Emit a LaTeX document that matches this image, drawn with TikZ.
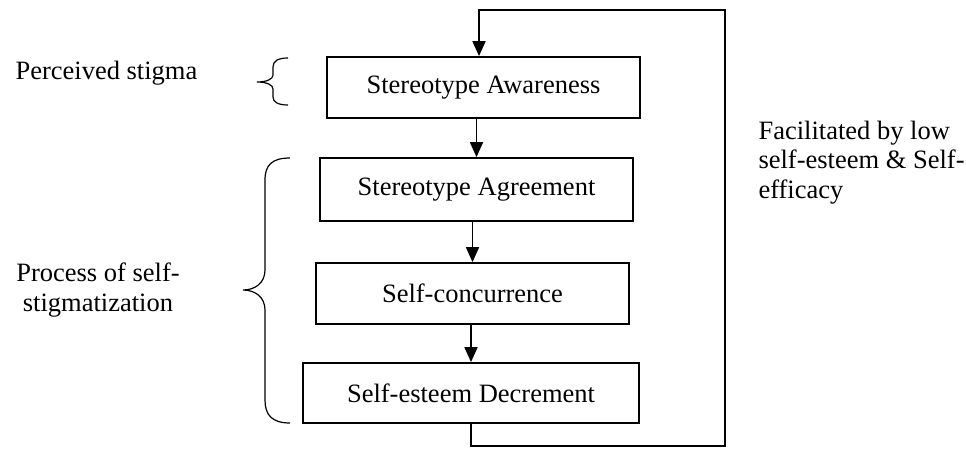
\documentclass[tikz,border=0pt]{standalone}
\usepackage{fontspec}
\setmainfont{Liberation Serif}
\usetikzlibrary{arrows.meta}

\begin{document}
\begin{tikzpicture}[
  every node/.style={font=\fontsize{26.5}{29.5}\selectfont},
  stagebox/.style={rectangle, draw=black, line width=1.8pt, minimum width=313pt, minimum height=61pt, inner sep=0pt},
  flow/.style={line width=1.8pt, -{Triangle[width=13pt,length=15pt]}},
  bracepath/.style={line width=1.2pt}]
\useasboundingbox (0pt,0pt) rectangle (966pt,-448pt);
\node (1) [stagebox] at (483.5pt, -87.5pt) {Stereotype Awareness};
\node (2) [stagebox, minimum height=63pt] at (476.5pt, -189.5pt) {Stereotype Agreement};
\node (3) [stagebox] at (472.5pt, -293.5pt) {Self-concurrence};
\node (4) [stagebox, minimum width=336pt, minimum height=60pt] at (471.0pt, -393.0pt) {Self-esteem Decrement};
\node (5) [anchor=base west] at (12.0pt, -79.0pt) {Perceived stigma};
\node (6) [anchor=base, align=center] at (98.0pt, -311.0pt) {Process of self-\\stigmatization};
\node (7) [anchor=base west, align=left] at (755.0pt, -198.0pt) {Facilitated by low\\self-esteem \& Self-\\efficacy};
\coordinate (r1) at (725pt, -446pt);
\coordinate (r2) at (725pt, -10pt);
\coordinate (r3) at (479pt, -10pt);
\draw [flow] (1.south -| 2.north) -- (2.north);
\draw [flow] (2.south -| 3.north) -- (3.north);
\draw [flow] (3.south -| 4.north) -- (4.north);
\draw [flow] (4.south) |- (r1) -- (r2) -- (r3) -- (r3 |- 1.north);
% braces
\draw [bracepath] (288pt,-58pt) .. controls (278pt,-58pt) and (273pt,-61pt) .. (273pt,-67pt) -- (273pt,-75pt) .. controls (273pt,-79pt) and (267pt,-82pt) .. (257pt,-82pt) .. controls (267pt,-82pt) and (273pt,-85pt) .. (273pt,-89pt) -- (273pt,-97pt) .. controls (273pt,-102pt) and (278pt,-105pt) .. (288pt,-105pt);
\draw [bracepath] (290pt,-158pt) .. controls (272pt,-158pt) and (265pt,-165pt) .. (265pt,-180pt) -- (265pt,-270pt) .. controls (265pt,-283pt) and (255pt,-290pt) .. (243pt,-290pt) .. controls (255pt,-290pt) and (265pt,-297pt) .. (265pt,-310pt) -- (265pt,-400pt) .. controls (265pt,-415pt) and (272pt,-423pt) .. (290pt,-423pt);
\end{tikzpicture}
\end{document}
